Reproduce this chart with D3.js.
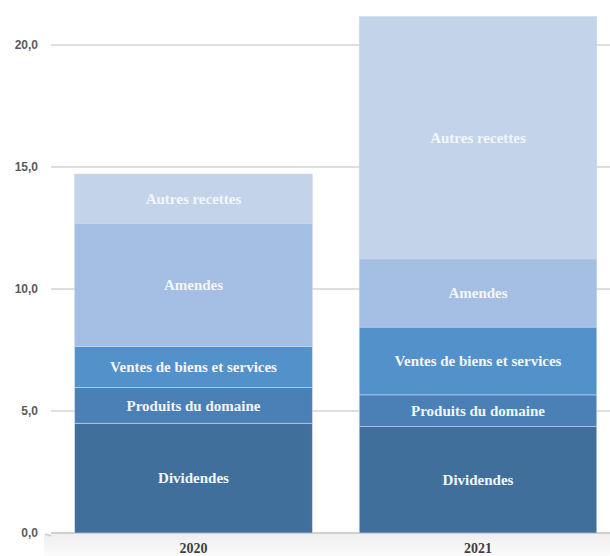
<!DOCTYPE html>
<html>
    <head>
        <meta charset="utf-8">
        <style>
        html, body {
            margin: 0px;
            background: #fff;
        }
        svg { display: block; }
        .axis text {
          font: bold 12px "Liberation Sans", sans-serif;
          fill: #5a5a5a;
        }
        .seg-label {
          font: bold 15px "Liberation Serif", serif;
          fill: #f3f5fa;
        }
        .year {
          font: bold 14px "Liberation Serif", serif;
          fill: #3f3f3f;
        }
        </style>
    </head>
    <body>
        <svg class="chart" width="610" height="556"></svg>
        <script src="https://d3js.org/d3.v7.min.js"></script>
        <script>
            // data (milliards), bottom to top
            var years = ["2020", "2021"];
            var series = ["Dividendes", "Produits du domaine", "Ventes de biens et services", "Amendes", "Autres recettes"];
            var values2020 = [4.5, 1.47, 1.67, 5.04, 2.03];
            var values2021 = [4.36, 1.3, 2.78, 2.79, 9.93];
            var yTicks = [0, 5, 10, 15, 20];
            var colors = ["#416f9b", "#4a80b5", "#5391ca", "#a4bfe3", "#c3d4ea"];

            var rows = years.map(function(y, i) {
                var vals = i == 0 ? values2020 : values2021;
                var row = {year: y};
                series.forEach(function(s, j) { row[s] = vals[j]; });
                return row;
            });

            var chart = d3.select(".chart");

            var x = d3.scaleBand().domain(years).range([51.25, 620.25])
                      .paddingInner(0.165).paddingOuter(0.0825);
            var y = d3.scaleLinear().domain([0, 20]).range([533, 45]);

            // faint shading under the base line
            var grad = chart.append("defs").append("linearGradient")
                .attr("id", "shade").attr("x1", 0).attr("y1", 0).attr("x2", 0).attr("y2", 1);
            grad.append("stop").attr("offset", "0%").attr("stop-color", "#efefef");
            grad.append("stop").attr("offset", "100%").attr("stop-color", "#fbfbfb");
            chart.append("rect")
                .attr("x", 44).attr("y", y(0) + 1)
                .attr("width", 566).attr("height", 556 - y(0) - 1)
                .attr("fill", "url(#shade)");

            // grid lines
            chart.append("g").selectAll("line")
                .data(yTicks)
                .enter().append("line")
                .attr("x1", 51).attr("x2", 610)
                .attr("y1", function(d) { return y(d); })
                .attr("y2", function(d) { return y(d); })
                .attr("stroke", function(d) { return d == 0 ? "#cfcfcf" : "#dedede"; })
                .attr("stroke-width", 2);

            // small tick on the base line
            chart.append("line")
                .attr("x1", 45).attr("x2", 51)
                .attr("y1", y(0) + 1).attr("y2", y(0) + 3)
                .attr("stroke", "#cfcfcf").attr("stroke-width", 1.5);

            var yAxis = d3.axisLeft(y).tickValues(yTicks).tickSize(0).tickPadding(13)
                .tickFormat(function(d) { return d3.format(".1f")(d).replace(".", ","); });

            chart.append("g")
                .attr("class", "y axis")
                .attr("transform", "translate(51,0)")
                .call(yAxis)
                .call(function(g) { g.select(".domain").remove(); });

            var stack = d3.stack().keys(series);
            var layers = stack(rows);

            var layer = chart.append("g").selectAll("g")
                .data(layers)
                .enter().append("g")
                .attr("fill", function(d, i) { return colors[i]; });

            layer.selectAll("rect")
                .data(function(d) { return d; })
                .enter().append("rect")
                .attr("x", function(d) { return x(d.data.year); })
                .attr("y", function(d) { return y(d[1]); })
                .attr("width", x.bandwidth())
                .attr("height", function(d) { return y(d[0]) - y(d[1]); })
                .attr("stroke", "#c8d6ea")
                .attr("stroke-width", 0.6);

            layer.selectAll("text")
                .data(function(d) { return d.map(function(p) { return {p: p, key: d.key}; }); })
                .enter().append("text")
                .attr("class", "seg-label")
                .attr("text-anchor", "middle")
                .attr("dy", "0.35em")
                .attr("x", function(d) { return x(d.p.data.year) + x.bandwidth() / 2; })
                .attr("y", function(d) { return (y(d.p[0]) + y(d.p[1])) / 2; })
                .text(function(d) { return d.key; });

            chart.append("g").selectAll("text")
                .data(years)
                .enter().append("text")
                .attr("class", "year")
                .attr("text-anchor", "middle")
                .attr("x", function(d) { return x(d) + x.bandwidth() / 2; })
                .attr("y", 553)
                .text(function(d) { return d; });
        </script>
    </body>
</html>
